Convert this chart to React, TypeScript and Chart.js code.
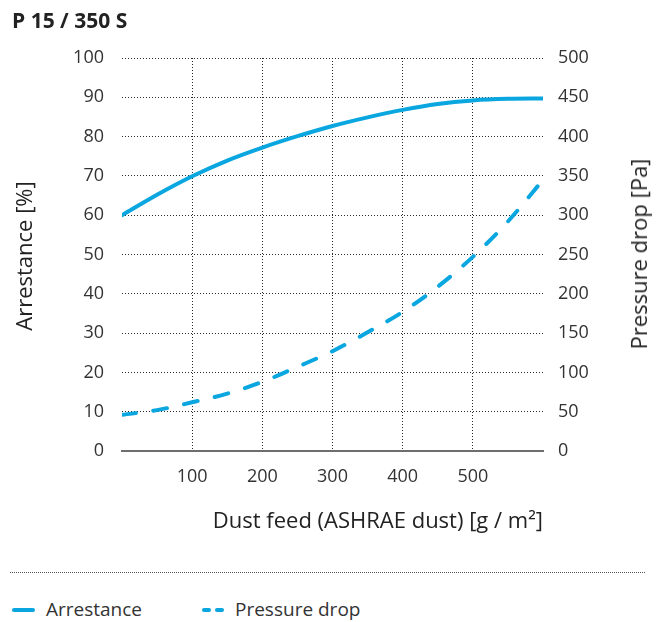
import React, { useEffect, useRef } from "react";
import { Chart, registerables } from "chart.js";

Chart.register(...registerables);

const dustFeed = [0, 50, 100, 150, 200, 250, 300, 350, 400, 450, 500, 550, 600];
const arrestance = [60, 65.2, 69.9, 73.9, 77.2, 80.1, 82.7, 84.9, 86.8, 88.3, 89.2, 89.6, 89.7];
const pressureDrop = [46, 52, 62, 73, 88, 107, 127, 151, 177, 209, 247, 292, 345];

const xTitle = "Dust feed (ASHRAE dust) [g / m²]";
const yLeftTitle = "Arrestance [%]";
const yRightTitle = "Pressure drop [Pa]";
const chartTitle = "P 15 / 350 S";
const legendLabels = ["Arrestance", "Pressure drop"];

const BLUE = "#0aa6e0";
const FONT = "'Open Sans', sans-serif";
const TEXT = "#333333";
const DOT = "#2a2a2a";
const TITLE_SIZE = 22;

function RotatedLabel({ x, y, text }: { x: number; y: number; text: string }) {
  return (
    <div style={{ position: "absolute", left: x, top: y, width: 0, height: 0 }}>
      <div
        style={{
          position: "absolute",
          left: 0,
          top: 0,
          transform: "translate(-50%, -50%) rotate(-90deg)",
          whiteSpace: "nowrap",
          fontSize: TITLE_SIZE,
          lineHeight: "26px",
          color: "#222",
        }}
      >
        {text}
      </div>
    </div>
  );
}

export default function App() {
  const ref = useRef<HTMLCanvasElement | null>(null);

  useEffect(() => {
    document.body.style.margin = "0";
    const canvas = ref.current;
    if (!canvas) return;
    const chart = new Chart(canvas, {
      type: "line",
      data: {
        labels: dustFeed,
        datasets: [
          {
            label: legendLabels[0],
            data: dustFeed.map((x, i) => ({ x, y: arrestance[i] })),
            borderColor: BLUE,
            borderWidth: 4,
            pointRadius: 0,
            cubicInterpolationMode: "monotone",
            borderCapStyle: "round",
            yAxisID: "y",
          },
          {
            label: legendLabels[1],
            data: dustFeed.map((x, i) => ({ x, y: pressureDrop[i] })),
            borderColor: BLUE,
            borderWidth: 4,
            borderDash: [14, 17.5],
            borderCapStyle: "round",
            pointRadius: 0,
            cubicInterpolationMode: "monotone",
            yAxisID: "y1",
          },
        ],
      },
      options: {
        animation: false,
        responsive: false,
        maintainAspectRatio: false,
        layout: { padding: { left: 0, right: 0, top: 58, bottom: 0 } },
        plugins: {
          legend: { display: false },
          tooltip: { enabled: false },
          title: { display: false },
        },
        scales: {
          x: {
            type: "linear",
            min: 0,
            max: 600,
            afterFit: (s: any) => {
              s.height = 89;
            },
            ticks: {
              stepSize: 100,
              padding: 15,
              color: TEXT,
              font: { family: FONT, size: 18 },
              callback: (v: any) => (v === 0 || v === 600 ? "" : String(v)),
              maxRotation: 0,
              autoSkip: false,
            },
            grid: {
              drawTicks: false,
              lineWidth: 1,
              color: (ctx: any) =>
                ctx.tick && (ctx.tick.value === 0 || ctx.tick.value === 600) ? "rgba(0,0,0,0)" : DOT,
            },
            border: { display: true, color: "#6e6e6e", width: 2, dash: [1, 2] },
            title: {
              display: true,
              text: xTitle,
              align: "end",
              color: "#222",
              font: { family: FONT, size: TITLE_SIZE },
              padding: { top: 0, bottom: 5 },
            },
          },
          y: {
            type: "linear",
            position: "left",
            min: 0,
            max: 100,
            afterFit: (s: any) => {
              s.width = 122;
            },
            ticks: {
              stepSize: 10,
              padding: 18,
              color: TEXT,
              font: { family: FONT, size: 18 },
            },
            grid: {
              drawTicks: false,
              lineWidth: 1,
              color: (ctx: any) => (ctx.tick && ctx.tick.value === 0 ? "rgba(0,0,0,0)" : DOT),
            },
            border: { display: false, dash: [1, 2] },
            title: { display: false },
          },
          y1: {
            type: "linear",
            position: "right",
            min: 0,
            max: 500,
            afterFit: (s: any) => {
              s.width = 113;
            },
            ticks: {
              stepSize: 50,
              padding: 15,
              color: TEXT,
              font: { family: FONT, size: 18 },
            },
            grid: { display: false, drawTicks: false },
            border: { display: false },
            title: { display: false },
          },
        },
      },
    });
    return () => chart.destroy();
  }, []);

  return (
    <div style={{ position: "relative", width: 656, height: 622, fontFamily: FONT, color: "#222" }}>
      <canvas ref={ref} width={656} height={540} style={{ position: "absolute", left: 0, top: 0, width: 656, height: 540 }} />
      <div style={{ position: "absolute", left: 12, top: 8, fontSize: 21, fontWeight: 700, lineHeight: "24px" }}>
        {chartTitle}
      </div>
      <RotatedLabel x={23} y={256} text={yLeftTitle} />
      <RotatedLabel x={638} y={254} text={yRightTitle} />
      <div style={{ position: "absolute", left: 10, width: 635, top: 572, borderTop: "1px dotted #555" }} />
      <div style={{ position: "absolute", left: 12, top: 608, width: 23, height: 4, borderRadius: 2, background: BLUE }} />
      <div style={{ position: "absolute", left: 46, top: 597, fontSize: 19, lineHeight: "24px", color: TEXT }}>
        {legendLabels[0]}
      </div>
      <div style={{ position: "absolute", left: 202, top: 608, width: 9, height: 4, borderRadius: 2, background: BLUE }} />
      <div style={{ position: "absolute", left: 215, top: 608, width: 9, height: 4, borderRadius: 2, background: BLUE }} />
      <div style={{ position: "absolute", left: 235, top: 597, fontSize: 19, lineHeight: "24px", color: TEXT }}>
        {legendLabels[1]}
      </div>
    </div>
  );
}
